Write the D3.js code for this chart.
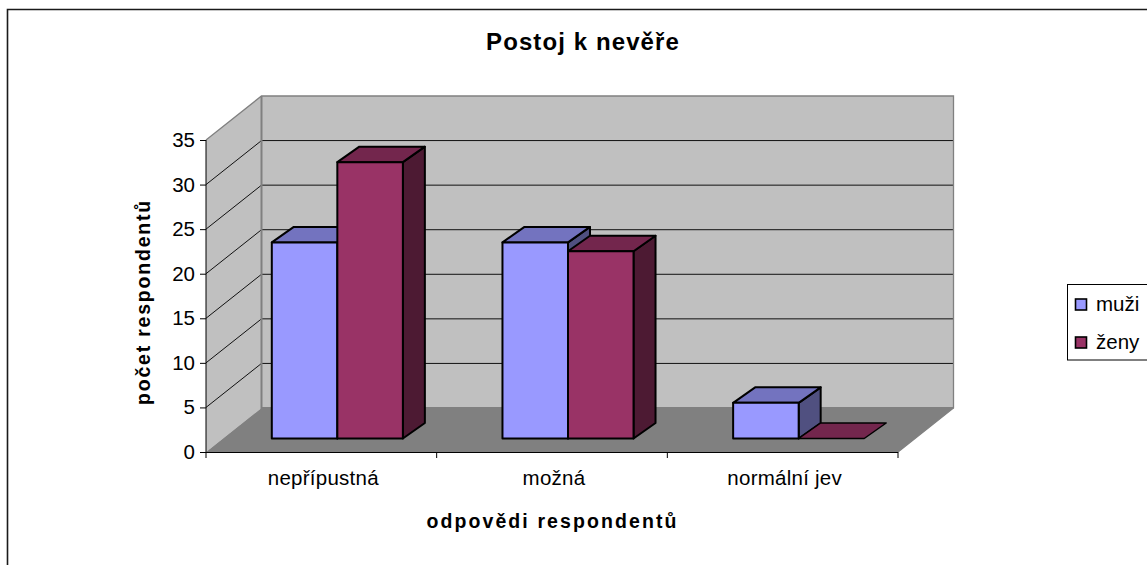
<!DOCTYPE html>
<html><head><meta charset="utf-8">
<script src="https://cdn.jsdelivr.net/npm/d3@7/dist/d3.min.js"></script>
<style>html,body{margin:0;background:#fff}svg{display:block}text{font-family:"Liberation Sans",Arial,sans-serif;fill:#000}</style>
</head><body><svg id="c" width="1147" height="565"></svg>
<script>
const title = "Postoj k nevěře";
const categories = ["nepřípustná","možná","normální jev"];
const seriesNames = ["muži","ženy"];
const muzi = [22,22,4];
const zeny = [31,21,0];
const tickValues = [0,5,10,15,20,25,30,35];
const xTitle = "odpovědi respondentů";
const yTitle = "počet respondentů";
const colors = {muzi:["#9999ff","#7373bf","#505080"],zeny:["#993366","#73264d","#4d1a33"]};

const svg = d3.select("#c");
svg.append("path").attr("d","M7.5,565V9.5H1147").attr("fill","none").attr("stroke","#1a1a1a").attr("stroke-width",1.6);

const x0=206,x1=898,yB=452,yT=140,dx=55.5,dy=-44;
const x=d3.scaleBand().domain(categories).range([x0,x1]);
const y=d3.scaleLinear().domain([0,35]).range([yB,yT]);
const series=d3.scaleBand().domain([0,1]).range([0,x.bandwidth()]).paddingInner(0).paddingOuter(0.76);

const poly=(pts,fill,stroke,sw)=>svg.append("polygon").attr("points",pts.map(p=>p.join(",")).join(" ")).attr("fill",fill).attr("stroke",stroke||"none").attr("stroke-width",sw||0).attr("stroke-linejoin","round");
// walls and floor
poly([[x0+dx,yT+dy],[x1+dx,yT+dy],[x1+dx,yB+dy],[x0+dx,yB+dy]],"#c0c0c0");
poly([[x0,yT],[x0+dx,yT+dy],[x0+dx,yB+dy],[x0,yB]],"#c0c0c0");
poly([[x0,yB],[x1,yB],[x1+dx,yB+dy],[x0+dx,yB+dy]],"#808080");
// gridlines
tickValues.filter(v=>v>0&&v<35).forEach(v=>{
  svg.append("path").attr("d",`M${x0},${y(v)}L${x0+dx},${y(v)+dy}L${x1+dx},${y(v)+dy}`).attr("fill","none").attr("stroke","#111").attr("stroke-width",1);
});
// wall outlines
svg.append("path").attr("d",`M${x0},${yT}L${x0+dx},${yT+dy}H${x1+dx}V${yB+dy}L${x1},${yB}`).attr("fill","none").attr("stroke","#808080").attr("stroke-width",1.3);
svg.append("path").attr("d",`M${x0+dx},${yT+dy}V${yB+dy}H${x1+dx}`).attr("fill","none").attr("stroke","#808080").attr("stroke-width",2);

// bars
const ox=16, oy=-13.5, bdx=22, bdy=-15.5;
const barW=series.bandwidth();
categories.forEach((c,i)=>{
  [[muzi[i],colors.muzi,0],[zeny[i],colors.zeny,1]].forEach(([v,col,s])=>{
    const l=x(c)+series(s)+ox, r=l+barW, b=yB+oy, t=y(v)+oy;
    if(v>0) poly([[r,b],[r+bdx,b+bdy],[r+bdx,t+bdy],[r,t]],col[2],"#000",2);
    poly([[l,t],[l+bdx,t+bdy],[r+bdx,t+bdy],[r,t]],col[1],"#000",v>0?2:1.5);
    if(v>0) poly([[l,t],[r,t],[r,b],[l,b]],col[0],"#000",2);
  });
});

// axes
const ga=svg.append("g").attr("transform",`translate(${x0},0)`).call(d3.axisLeft(y).tickValues(tickValues).tickSize(6).tickPadding(5));
ga.select(".domain").attr("stroke","#000").attr("d",`M0,${yT}V${yB}`);
ga.selectAll("line").attr("stroke","#000");
ga.selectAll("text").style("font-size","20.5px").style("fill","#000");
const edges=d3.range(categories.length+1).map(i=>x0+i*x.step());
svg.append("line").attr("x1",x0).attr("x2",x1).attr("y1",yB+0.5).attr("y2",yB+0.5).attr("stroke","#000");
edges.forEach(e=>svg.append("line").attr("x1",e).attr("x2",e).attr("y1",yB).attr("y2",yB+6).attr("stroke","#000"));
categories.forEach(c=>svg.append("text").attr("x",x(c)+x.bandwidth()/2+2).attr("y",485).attr("text-anchor","middle").style("font-size","20.5px").style("letter-spacing","0.25px").text(c));

// titles
svg.append("text").attr("x",583).attr("y",49.5).attr("text-anchor","middle").style("font-size","24px").style("font-weight","bold").style("letter-spacing","1.1px").text(title);
svg.append("text").attr("x",552.5).attr("y",527.5).attr("text-anchor","middle").style("font-size","19.5px").style("font-weight","bold").style("letter-spacing","2.1px").text(xTitle);
svg.append("text").attr("transform","translate(150,302) rotate(-90)").attr("text-anchor","middle").style("font-size","19.5px").style("font-weight","bold").style("letter-spacing","1.8px").text(yTitle);

// legend
svg.append("rect").attr("x",1067.5).attr("y",284.5).attr("width",90).attr("height",75.5).attr("fill","#fff").attr("stroke","#000");
[[0,colors.muzi[0]],[1,colors.zeny[0]]].forEach(([i,col])=>{
  const cy=304.5+i*38;
  svg.append("rect").attr("x",1075.5).attr("y",cy-5.5).attr("width",11).attr("height",11).attr("fill",col).attr("stroke","#000").attr("stroke-width",1.6);
  svg.append("text").attr("x",1096).attr("y",cy+6.5).style("font-size","20.5px").text(seriesNames[i]);
});
</script></body></html>
